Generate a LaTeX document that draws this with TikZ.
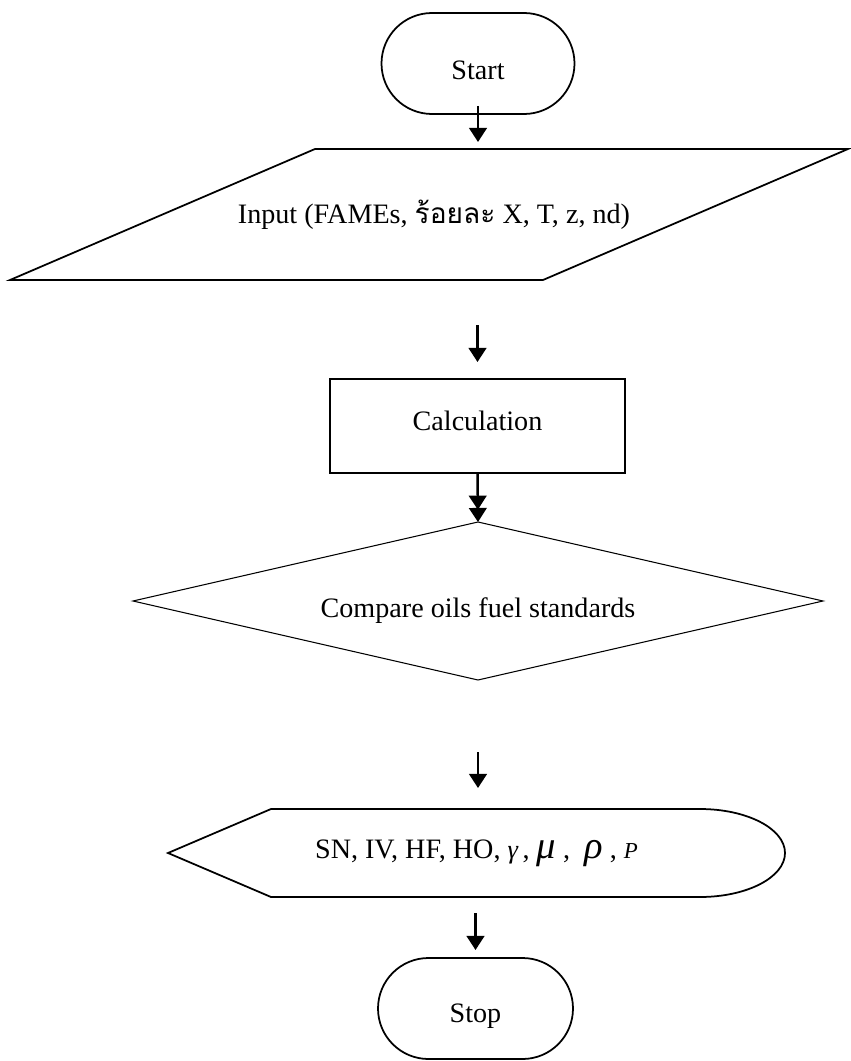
\documentclass[tikz,border=0pt]{standalone}
\usepackage{fontspec}
\setmainfont{Liberation Serif}
\newfontfamily\thaifont[Script=Thai]{Loma}
\usetikzlibrary{arrows.meta,calc,shapes.geometric,shapes.misc}

\newcommand{\lowered}[2]{\raisebox{#1}[\height][\depth]{#2}}

\begin{document}
\begin{tikzpicture}[>={Triangle[length=8pt,width=10pt]}, line join=miter,
		font=\fontsize{16}{19}\selectfont,
		box/.style={inner sep=0pt, outer sep=0pt, align=center},
		term/.style={box, draw, line width=1pt, rounded rectangle, minimum width=3.86cm, minimum height=2.02cm},
		arr/.style={->, line width=1.4pt},
		dbl/.style={-{Triangle[length=8pt,width=10pt,sep=-1pt]Triangle[length=8pt,width=10pt]}, line width=1.4pt}]
		
		\useasboundingbox (0,0) rectangle (17,-21.22);
		
		% terminals and boxes
		\node[term] (start) at (9.56,-1.27) {\lowered{-0.14cm}{Start}};
		
		\node[box, minimum width=16.76cm, minimum height=2.62cm] (input) at (8.58,-4.29)
			{\hspace{0.2cm}Input (FAMEs, {\thaifont ร้อยละ} X, T, z, nd)};
		\draw[line width=1pt] ($(input.north west)+(6.1,0)$) -- (input.north east)
			-- ($(input.south east)-(6.1,0)$) -- (input.south west) -- cycle;
		
		\node[box, draw, line width=0.9pt, minimum width=5.9cm, minimum height=1.88cm] (calc) at (9.55,-8.52) {\lowered{0.1cm}{Calculation}};
		
		\node[box, draw, line width=0.6pt, diamond, aspect=4.37, minimum width=13.8cm, minimum height=3.16cm] (cmp) at (9.56,-12.02)
			{\lowered{-0.2cm}{Compare oils fuel standards}};
		
		% display shape
		\node[box, minimum width=12.34cm, minimum height=1.76cm] (disp) at (9.53,-17.06)
			{SN, IV, HF, HO, {\fontsize{15}{17}\selectfont\itshape γ}\,, {\fontsize{22}{24}\selectfont\itshape μ} , \ {\fontsize{22}{24}\selectfont\itshape ρ} , {\fontsize{13}{15}\selectfont\itshape P}};
		\draw[line width=1pt] (disp.west) -- ($(disp.north west)+(2.06,0)$) -- ($(disp.north east)-(1.7,0)$)
			arc[start angle=90, end angle=-90, x radius=1.7, y radius=0.88]
			-- ($(disp.south west)+(2.06,0)$) -- cycle;
		
		\node[term, minimum width=3.9cm] (stop) at (9.51,-20.17) {\lowered{-0.16cm}{Stop}};
		
		% connectors
		\draw[arr] ([yshift=0.16cm]start.south) -- ([yshift=0.14cm]start.south |- input.north);
		\draw[arr] ($(calc.north |- input.south)+(0,-0.9)$) -- ([yshift=0.34cm]calc.north);
		\draw[dbl] (calc.south) -- (cmp.north);
		\draw[arr] ($(disp.north -| cmp.south)+(0,1.14)$) -- ([yshift=0.42cm]disp.north -| cmp.south);
		\draw[arr] ($(stop.north |- disp.south)+(0,-0.32)$) -- ([yshift=0.16cm]stop.north);
		
	\end{tikzpicture}
\end{document}
